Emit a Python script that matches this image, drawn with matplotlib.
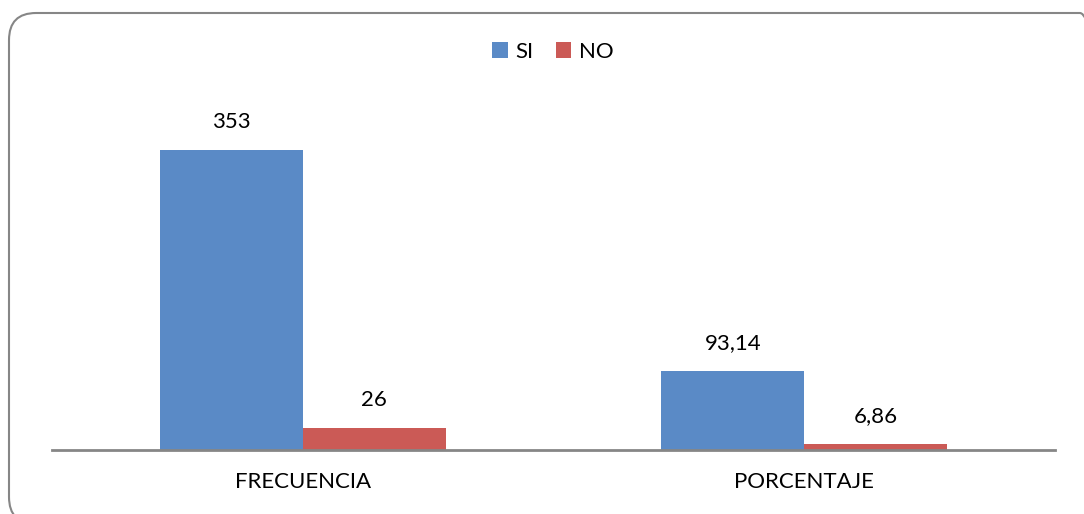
import numpy as np
import matplotlib.pyplot as plt
from matplotlib.patches import FancyBboxPatch

categories = ['FRECUENCIA', 'PORCENTAJE']
si_values = [353, 93.14]
no_values = [26, 6.86]
si_labels = ['353', '93,14']
no_labels = ['26', '6,86']

plt.rcParams['font.family'] = ['Lato', 'DejaVu Sans']

fig = plt.figure(figsize=(10.84, 5.14), dpi=100)
ax = fig.add_axes([52 / 1084, 64 / 514, 1003 / 1084, 340 / 514])

x = np.arange(len(categories))
w = 0.285
b1 = ax.bar(x - w / 2, si_values, w, color='#5A8AC6', label='SI')
b2 = ax.bar(x + w / 2, no_values, w, color='#CB5A56', label='NO')

for bars, labs in ((b1, si_labels), (b2, no_labels)):
    for bar, lab in zip(bars, labs):
        ax.annotate(lab, (bar.get_x() + bar.get_width() / 2, bar.get_height()),
                    xytext=(0, 13), textcoords='offset points',
                    ha='center', va='bottom', fontsize=16, color='black')

ax.set_xlim(-0.5, 1.5)
ax.set_ylim(0, 400)
ax.set_xticks(x)
ax.set_xticklabels(categories, fontsize=16)
ax.tick_params(axis='x', length=0, pad=16)
ax.set_yticks([])
for s in ['top', 'right', 'left']:
    ax.spines[s].set_visible(False)
ax.spines['bottom'].set_color('#868686')
ax.spines['bottom'].set_linewidth(2)

fig.legend(loc='center', bbox_to_anchor=(553 / 1084, 1 - 52 / 514), ncol=2,
           frameon=False, fontsize=16, handlelength=0.7, handleheight=0.7,
           handletextpad=0.35, columnspacing=1.0)

# outer rounded frame, partly cut off at right and bottom like the original
border = FancyBboxPatch((9 / 1084, -10 / 514), 1098 / 1084, 511 / 514,
                        boxstyle='round,pad=0,rounding_size=0.025',
                        mutation_aspect=1084 / 514,
                        transform=fig.transFigure, fill=False,
                        edgecolor='#868686', linewidth=1.5)
fig.patches.append(border)

fig.savefig('out.png', dpi=100)
